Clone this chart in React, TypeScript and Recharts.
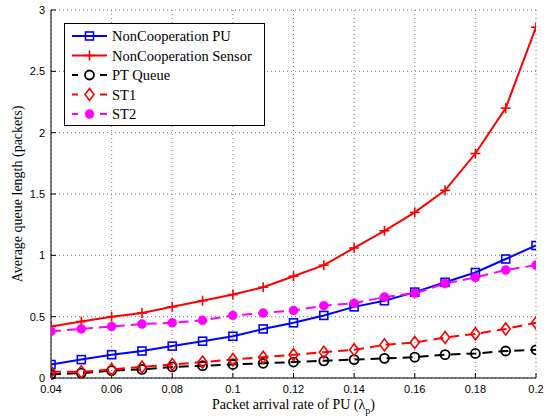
import React from "react";
import { LineChart, Line, XAxis, YAxis, CartesianGrid, Legend } from "recharts";

const arrivalRates = [0.04, 0.05, 0.06, 0.07, 0.08, 0.09, 0.1, 0.11, 0.12, 0.13, 0.14, 0.15, 0.16, 0.17, 0.18, 0.19, 0.2];
const nonCoopPU = [0.11, 0.15, 0.19, 0.22, 0.26, 0.30, 0.34, 0.40, 0.45, 0.51, 0.58, 0.63, 0.70, 0.78, 0.86, 0.97, 1.08];
const nonCoopSensor = [0.42, 0.46, 0.50, 0.53, 0.58, 0.63, 0.68, 0.74, 0.83, 0.92, 1.06, 1.20, 1.35, 1.53, 1.83, 2.20, 2.86];
const ptQueue = [0.03, 0.04, 0.06, 0.07, 0.09, 0.10, 0.11, 0.12, 0.13, 0.14, 0.15, 0.16, 0.17, 0.19, 0.20, 0.22, 0.23];
const st1 = [0.05, 0.05, 0.07, 0.09, 0.11, 0.13, 0.15, 0.17, 0.19, 0.21, 0.23, 0.27, 0.29, 0.33, 0.36, 0.40, 0.45];
const st2 = [0.38, 0.40, 0.42, 0.44, 0.45, 0.47, 0.51, 0.53, 0.55, 0.59, 0.61, 0.66, 0.69, 0.77, 0.82, 0.88, 0.92];

const xTicks = [0.04, 0.06, 0.08, 0.1, 0.12, 0.14, 0.16, 0.18, 0.2];
const xTickLabels = ["0.04", "0.06", "0.08", "0.1", "0.12", "0.14", "0.16", "0.18", "0.2"];
const yTicks = [0, 0.5, 1, 1.5, 2, 2.5, 3];
const yTickLabels = ["0", "0.5", "1", "1.5", "2", "2.5", "3"];

const data = arrivalRates.map((x, i) => ({
  x,
  pu: nonCoopPU[i],
  sensor: nonCoopSensor[i],
  pt: ptQueue[i],
  st1: st1[i],
  st2: st2[i],
}));

type MarkerKind = "square" | "plus" | "circle" | "diamond" | "dot";

function Marker({ kind, cx, cy, color }: { kind: MarkerKind; cx: number; cy: number; color: string }) {
  if (kind === "square") {
    return <rect x={cx - 4} y={cy - 4} width={8} height={8} fill="none" stroke={color} strokeWidth={1.6} />;
  }
  if (kind === "plus") {
    return (
      <g stroke={color} strokeWidth={1.6}>
        <line x1={cx - 5} y1={cy} x2={cx + 5} y2={cy} />
        <line x1={cx} y1={cy - 5} x2={cx} y2={cy + 5} />
      </g>
    );
  }
  if (kind === "circle") {
    return <circle cx={cx} cy={cy} r={4.5} fill="none" stroke={color} strokeWidth={1.8} />;
  }
  if (kind === "diamond") {
    return (
      <path
        d={`M${cx},${cy - 6} L${cx + 4.5},${cy} L${cx},${cy + 6} L${cx - 4.5},${cy} Z`}
        fill="none"
        stroke={color}
        strokeWidth={1.6}
      />
    );
  }
  return <circle cx={cx} cy={cy} r={4.5} fill={color} stroke={color} strokeWidth={0.5} />;
}

const series = [
  { key: "pu", name: "NonCooperation PU", color: "#0000ff", dash: undefined as string | undefined, marker: "square" as MarkerKind },
  { key: "sensor", name: "NonCooperation Sensor", color: "#ff0000", dash: undefined, marker: "plus" as MarkerKind },
  { key: "pt", name: "PT Queue", color: "#000000", dash: "10 6", marker: "circle" as MarkerKind },
  { key: "st1", name: "ST1", color: "#ff0000", dash: "10 6", marker: "diamond" as MarkerKind },
  { key: "st2", name: "ST2", color: "#ff00ff", dash: "10 6", marker: "dot" as MarkerKind },
];

const serif = "'Liberation Serif', 'Times New Roman', serif";
const sans = "'Liberation Sans', Arial, sans-serif";

function LegendBox() {
  return (
    <svg width={201} height={103} style={{ display: "block" }}>
      <rect x={0.5} y={0.5} width={200} height={102} fill="#fff" stroke="#000" strokeWidth={1} />
      {series.map((s, i) => {
        const y = 13 + i * 19.5;
        return (
          <g key={s.key}>
            {s.dash ? (
              <g stroke={s.color} strokeWidth={2}>
                <line x1={8} y1={y} x2={14} y2={y} />
                <line x1={36} y1={y} x2={43} y2={y} />
              </g>
            ) : (
              <line x1={8} y1={y} x2={43} y2={y} stroke={s.color} strokeWidth={2} />
            )}
            <Marker kind={s.marker} cx={25.5} cy={y} color={s.color} />
            <text x={48} y={y + 5} fontFamily={serif} fontSize={14.5} fill="#000">
              {s.name}
            </text>
          </g>
        );
      })}
    </svg>
  );
}

export default function App() {
  return (
    <div style={{ position: "absolute", left: 0, top: 0, width: 551, height: 420, background: "#fff" }}>
      <LineChart width={551} height={420} data={data} margin={{ top: 10, right: 15, left: 0, bottom: 0 }}>
        <CartesianGrid stroke="#777" strokeDasharray="1 3" strokeWidth={1} />
        <XAxis
          dataKey="x"
          type="number"
          domain={[0.04, 0.2]}
          ticks={xTicks}
          tickFormatter={(v: number) => xTickLabels[xTicks.indexOf(v)] ?? String(v)}
          height={42}
          tickSize={-5}
          tickMargin={12}
          interval={0}
          allowDataOverflow
          axisLine={{ stroke: "#000", strokeWidth: 1 }}
          tickLine={{ stroke: "#000" }}
          tick={{ fontFamily: sans, fontSize: 11, fill: "#000" }}
          label={{
            content: (props: any) => {
              const vb = props.viewBox || {};
              const cx = (vb.x ?? 51) + (vb.width ?? 485) / 2;
              return (
                <text x={cx} y={409} textAnchor="middle" fontFamily={serif} fontSize={14} fill="#000">
                  Packet arrival rate of PU (λ
                  <tspan dy={5} fontSize={10}>p</tspan>
                  <tspan dy={-5}>)</tspan>
                </text>
              );
            },
          }}
        />
        <XAxis
          xAxisId="top"
          dataKey="x"
          type="number"
          orientation="top"
          domain={[0.04, 0.2]}
          ticks={xTicks}
          height={0}
          tickSize={-5}
          tick={false}
          interval={0}
          axisLine={{ stroke: "#000", strokeWidth: 1 }}
          tickLine={{ stroke: "#000" }}
        />
        <YAxis
          type="number"
          domain={[0, 3]}
          ticks={yTicks}
          tickFormatter={(v: number) => yTickLabels[yTicks.indexOf(v)] ?? String(v)}
          width={51}
          tickSize={-5}
          tickMargin={11}
          interval={0}
          axisLine={{ stroke: "#000", strokeWidth: 1 }}
          tickLine={{ stroke: "#000" }}
          tick={{ fontFamily: sans, fontSize: 11, fill: "#000" }}
          label={{
            content: (props: any) => {
              const vb = props.viewBox || {};
              const cy = (vb.y ?? 10) + (vb.height ?? 368) / 2;
              return (
                <text
                  x={22}
                  y={cy}
                  textAnchor="middle"
                  fontFamily={serif}
                  fontSize={14}
                  fill="#000"
                  transform={`rotate(-90, 22, ${cy})`}
                >
                  Average queue length (packets)
                </text>
              );
            },
          }}
        />
        <YAxis
          yAxisId="right"
          orientation="right"
          type="number"
          domain={[0, 3]}
          ticks={yTicks}
          width={0}
          tickSize={-5}
          tick={false}
          interval={0}
          axisLine={{ stroke: "#000", strokeWidth: 1 }}
          tickLine={{ stroke: "#000" }}
        />
        <Legend
          layout="horizontal"
          verticalAlign="middle"
          align="center"
          wrapperStyle={{ left: 64, top: 23, width: 201, height: 103 }}
          content={() => <LegendBox />}
        />
        {series.map((s) => (
          <Line
            key={s.key}
            dataKey={s.key}
            name={s.name}
            type="linear"
            stroke={s.color}
            strokeWidth={2}
            strokeDasharray={s.dash}
            isAnimationActive={false}
            dot={(p: any) => (
              <g key={`${s.key}-${p.index}`}>
                <Marker kind={s.marker} cx={p.cx} cy={p.cy} color={s.color} />
              </g>
            )}
            activeDot={false}
          />
        ))}
      </LineChart>
    </div>
  );
}
